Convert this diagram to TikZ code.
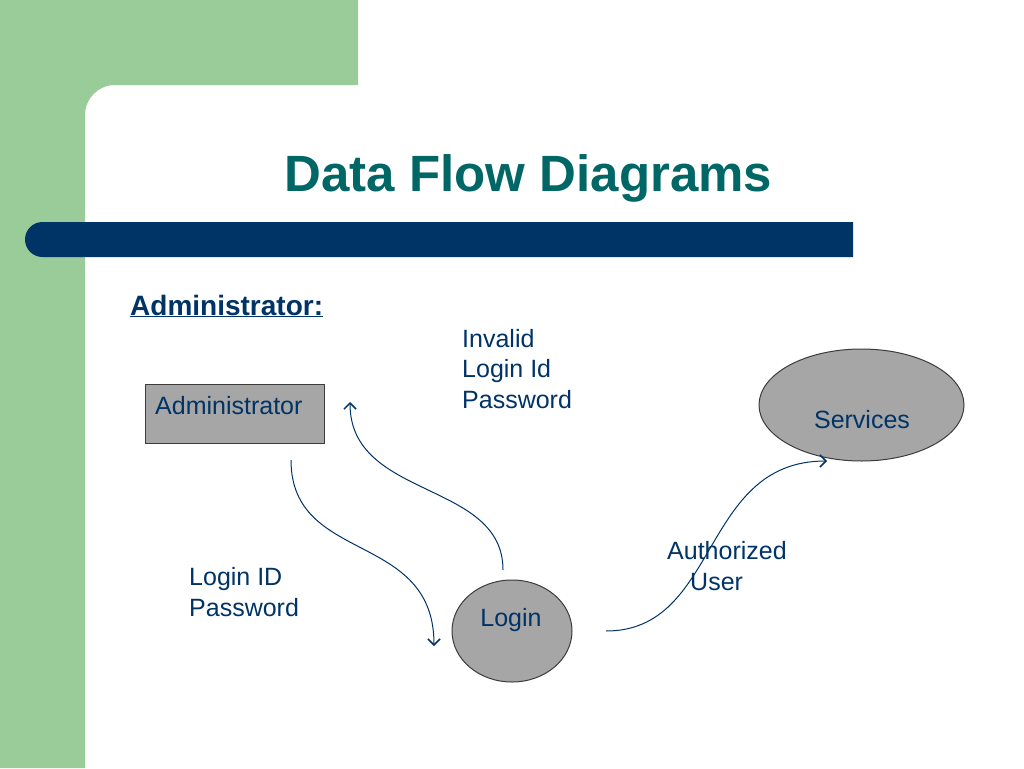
\documentclass[tikz,border=0pt]{standalone}
\usepackage{fontspec}
\setmainfont{Liberation Sans}
\usetikzlibrary{arrows.meta,shapes.geometric}
\definecolor{slidegreen}{RGB}{153,204,153}
\definecolor{barblue}{RGB}{0,51,102}
\definecolor{titleteal}{RGB}{0,102,102}
\definecolor{boxgray}{RGB}{166,166,166}
\definecolor{edgegray}{RGB}{60,60,60}
\tikzset{
  lbl/.style={anchor=base west, inner sep=0pt, text=barblue, align=left,
    font=\fontsize{25}{30.5}\selectfont},
  flow/.style={draw=barblue, line width=1pt, -{Straight Barb[length=6pt,width=12pt,line width=1.5pt]}},
  shapefill/.style={fill=boxgray, draw=edgegray, line width=1pt, inner sep=0pt}
}
\begin{document}
\begin{tikzpicture}[x=1pt,y=-1pt]
\useasboundingbox (0,0) rectangle (1024,768);
\fill[white] (0,0) rectangle (1024,768);
% green L-shaped background
\fill[slidegreen] (0,0) -- (358,0) -- (358,85) -- (115,85)
  .. controls (98.4,85) and (85,98.4) .. (85,115) -- (85,768) -- (0,768) -- cycle;
% blue bar
\fill[barblue] (42.5,222) -- (853,222) -- (853,257) -- (42.5,257)
  .. controls (32.8,257) and (25,249.2) .. (25,239.5)
  .. controls (25,229.8) and (32.8,222) .. (42.5,222) -- cycle;
% title
\node[anchor=base, inner sep=0pt, text=titleteal, font=\fontsize{51}{60}\selectfont\bfseries]
  (title) at (528.5,191) {Data Flow Diagrams};
% heading
\node[anchor=base west, inner sep=0pt, text=barblue, font=\fontsize{28}{33}\selectfont\bfseries]
  (head) at (130,315) {\underline{Administrator:}};
% shapes
\node[shapefill, rectangle, minimum width=179pt, minimum height=59pt] (admin) at (234.5,413.5) {};
\node[lbl] (admintext) at (155,414) {Administrator};
\node[shapefill, ellipse, minimum width=120pt, minimum height=102pt] (login) at (512,631) {};
\node[lbl, anchor=base] (logintext) at (511,626) {Login};
\node[shapefill, ellipse, minimum width=205pt, minimum height=112pt] (services) at (861.5,405) {};
\node[lbl, anchor=base] (servicestext) at (862,428) {Services};
% labels (base anchor = baseline of last line)
\node[lbl] (invalid) at (462,408) {Invalid\\Login Id\\Password};
\node[lbl] (loginid) at (189,616) {Login ID\\Password};
\node[lbl] (auth) at (667,590) {Authorized\\\hspace*{23pt}User};
% connector ends
\coordinate (a1) at (291,460);
\coordinate (a2) at (434,646);
\coordinate (b1) at (503,570);
\coordinate (b2) at (350,402);
\coordinate (c1) at (606,631);
\coordinate (c2) at (827,461);
\draw[flow] (a1) .. controls (291,565) and (434,530) .. (a2);
\draw[flow] (b1) .. controls (503,480) and (350,500) .. (b2);
\draw[flow] (c1) .. controls (720,631) and (700,461) .. (c2);
\end{tikzpicture}
\end{document}
